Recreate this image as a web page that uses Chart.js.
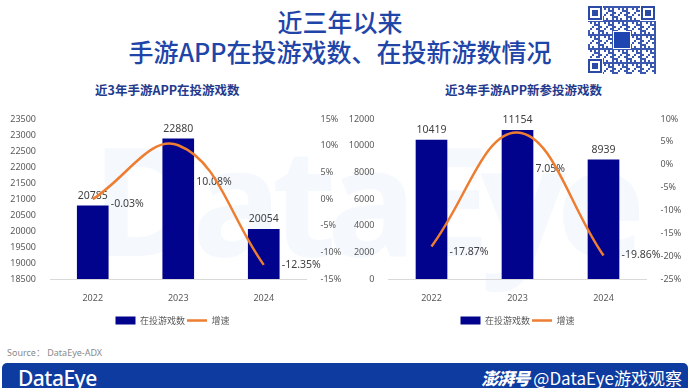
<!DOCTYPE html>
<html>
<head>
<meta charset="utf-8">
<script src="https://cdn.jsdelivr.net/npm/chart.js@4/dist/chart.umd.min.js"></script>
<style>
  html, body { margin: 0; padding: 0; }
  body { width: 690px; height: 388px; position: relative; overflow: hidden; background: #fff;
         font-family: "Noto Sans", "Noto Sans CJK SC", sans-serif; }
  .abs { position: absolute; }
  #wm { left: 92px; top: 96px; font: 700 150px "Noto Sans", sans-serif; color: #f5f9fe; letter-spacing: -10px; white-space: nowrap; }
  .title { left: 0; width: 680px; text-align: center; color: #1f45a8; font: 500 25px "Noto Sans CJK SC", sans-serif; line-height: 30px; }
  .sub { color: #23398c; font: 700 12.5px "Noto Sans CJK SC", sans-serif; white-space: nowrap; }
  #src { left: 7px; top: 346px; font: 9px "Noto Sans", "Noto Sans CJK SC", sans-serif; color: #8a8a8a; }
  #banner { left: 2px; top: 363px; width: 686px; height: 30px; background: #0d3b9f; border-radius: 5px; }
  #logo { left: 18px; top: 364px; color: #fff; font: 500 21px "Noto Sans", sans-serif; letter-spacing: -0.5px; }
  #handle { right: 8px; top: 365px; color: #fff; font: 17px "Noto Sans CJK SC", sans-serif; white-space: nowrap; }
  #handle b { font-style: italic; font-weight: 900; letter-spacing: -1px; margin-right: 4px; }
</style>
</head>
<body>
<div id="wm" class="abs">DataEye</div>
<div class="abs title" style="top:6px;">近三年以来</div>
<div class="abs title" style="top:36px;">手游APP在投游戏数、在投新游数情况</div>
<canvas id="qr" class="abs" width="70" height="70" style="left:587px;top:5px;"></canvas>
<div class="abs sub" style="left:95px;top:80px;">近3年手游APP在投游戏数</div>
<div class="abs sub" style="left:445px;top:80px;">近3年手游APP新参投游戏数</div>
<div class="abs" style="left:0;top:100px;width:345px;height:235px;"><canvas id="c1"></canvas></div>
<div class="abs" style="left:345px;top:100px;width:345px;height:235px;"><canvas id="c2"></canvas></div>
<div id="src" class="abs">Source：&nbsp;DataEye-ADX</div>
<div id="banner" class="abs"></div>
<div id="logo" class="abs">DataEye</div>
<div id="handle" class="abs"><b>澎湃号</b>@DataEye游戏观察</div>

<script>
// ---- data ----
const years = ['2022', '2023', '2024'];
const activeGames = [20785, 22880, 20054];
const activeGrowth = [-0.03, 10.08, -12.35];
const newGames = [10419, 11154, 8939];
const newGrowth = [-17.87, 7.05, -19.86];
const barLabel = '在投游戏数';
const lineLabel = '增速';
const activeAxis = [18500, 23500, 500];
const activeGrowthAxis = [-15, 15, 5];
const newAxis = [0, 12000, 2000];
const newGrowthAxis = [-25, 10, 5];

// ---- decorative QR-like mark ----
(function () {
  const c = document.getElementById('qr').getContext('2d');
  const n = 34, s = 68 / n;
  c.fillStyle = '#3a58b0';
  for (let y = 0; y < n; y++) for (let x = 0; x < n; x++) {
    if (((x * 7 + y * 13 + x * y * 3) % 7) < 3) c.fillRect(1 + x * s, 1 + y * s, s, s);
  }
  const finder = (x, y) => {
    c.fillStyle = '#fff'; c.fillRect(x - 1, y - 1, 16, 16);
    c.fillStyle = '#2a4aa6'; c.fillRect(x, y, 14, 14);
    c.fillStyle = '#fff'; c.fillRect(x + 2, y + 2, 10, 10);
    c.fillStyle = '#2a4aa6'; c.fillRect(x + 4, y + 4, 6, 6);
  };
  finder(1, 1); finder(54, 1); finder(1, 54);
  c.fillStyle = '#fff'; c.fillRect(26, 26, 18, 18);
  c.fillStyle = '#1f45b0'; c.fillRect(27, 27, 16, 16);
})();

// ---- value labels ----
const valuePlugin = {
  id: 'vals',
  beforeDatasetsDraw(chart, args, opts) {
    const ctx = chart.ctx;
    ctx.save();
    ctx.font = '10.5px "Noto Sans", sans-serif';
    ctx.fillStyle = '#404040';
    const bd = chart.data.datasets[0].data;
    ctx.textAlign = 'center';
    ctx.textBaseline = 'bottom';
    chart.getDatasetMeta(0).data.forEach((el, i) => ctx.fillText(String(bd[i]), el.x, el.y - 5));
    const ld = chart.data.datasets[1].data;
    ctx.textAlign = 'left';
    ctx.textBaseline = 'middle';
    chart.getDatasetMeta(1).data.forEach((el, i) =>
      ctx.fillText(ld[i].toFixed(2) + '%', el.x + opts.dx, el.y + opts.dy[i]));
    ctx.restore();
  }
};

function makeChart(id, bars, growth, axis, gAxis, leftW, rightW, dy) {
  const tickFont = { family: '"Noto Sans", sans-serif', size: 9 };
  return new Chart(document.getElementById(id), {
    type: 'bar',
    data: {
      labels: years,
      datasets: [
        { type: 'bar', label: barLabel, data: bars, backgroundColor: '#02038c', borderWidth: 0,
          barThickness: 31, yAxisID: 'y', order: 0, pointStyle: 'rect' },
        { type: 'line', label: lineLabel, data: growth, borderColor: '#ed7d31', backgroundColor: '#ed7d31',
          borderWidth: 2.5, pointRadius: 0, tension: 0.4, yAxisID: 'y1', order: -1, pointStyle: 'line' }
      ]
    },
    options: {
      responsive: true,
      maintainAspectRatio: false,
      animation: false,
      layout: { padding: { top: 19, bottom: 0, left: 0, right: 0 } },
      plugins: {
        tooltip: { enabled: false },
        legend: {
          position: 'bottom',
          labels: { usePointStyle: true, pointStyleWidth: 20, boxHeight: 8, padding: 2,
                    sort: (a, b) => a.datasetIndex - b.datasetIndex,
                    color: '#595959', font: { family: '"Noto Sans CJK SC", sans-serif', size: 9 } }
        },
        vals: { dx: 18, dy: dy }
      },
      scales: {
        x: {
          grid: { display: false },
          border: { display: true, color: '#d9d9d9', width: 1 },
          ticks: { color: '#595959', font: tickFont, padding: 6 },
          afterFit: s => { s.height = 35; }
        },
        y: {
          position: 'left', min: axis[0], max: axis[1],
          grid: { display: false }, border: { display: false },
          ticks: { stepSize: axis[2], color: '#595959', font: tickFont, padding: 6,
                   callback: v => String(v) },
          afterFit: s => { s.width = leftW; }
        },
        y1: {
          position: 'right', min: gAxis[0], max: gAxis[1],
          grid: { display: false }, border: { display: false },
          ticks: { stepSize: gAxis[2], color: '#595959', font: tickFont, padding: 6,
                   callback: v => v + '%' },
          afterFit: s => { s.width = rightW; }
        }
      }
    },
    plugins: [valuePlugin]
  });
}

makeChart('c1', activeGames, activeGrowth, activeAxis, activeGrowthAxis, 50, 38.5, [5, 37, 0]);
makeChart('c2', newGames, newGrowth, newAxis, newGrowthAxis, 43.5, 43.5, [6, 37, 0]);
</script>
</body>
</html>
